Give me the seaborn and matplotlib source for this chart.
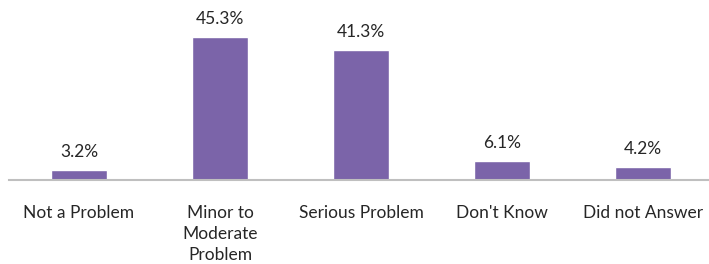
import matplotlib
matplotlib.use("Agg")
import matplotlib.pyplot as plt
import seaborn as sns
import pandas as pd

categories = ["Not a Problem", "Minor to\nModerate\nProblem", "Serious Problem", "Don't Know", "Did not Answer"]
values = [3.2, 45.3, 41.3, 6.1, 4.2]
labels = ["3.2%", "45.3%", "41.3%", "6.1%", "4.2%"]

sns.set_theme(style="white")
plt.rcParams['font.family'] = ['Lato', 'DejaVu Sans']

df = pd.DataFrame({"cat": categories, "val": values})

fig = plt.figure(figsize=(7.09, 2.64), dpi=100)
ax = fig.add_axes([8.5 / 709, (264 - 180) / 264, 705 / 709, 180 / 264])
sns.barplot(data=df, x="cat", y="val", color="#7B64A9", saturation=1, width=0.40, ax=ax)
ax.set_xlim(-0.5, 4.5)
ax.set_ylim(0, 57.0)
ax.set_xlabel("")
ax.set_ylabel("")
ax.set_yticks([])
for s in ["top", "right", "left"]:
    ax.spines[s].set_visible(False)
ax.spines["bottom"].set_color("#BFBFBF")
ax.spines["bottom"].set_linewidth(1.5)
ax.tick_params(axis="x", length=0, pad=18, labelsize=12.5, colors="#262626")
for t in ax.get_xticklabels():
    t.set_linespacing(1.4)
for i, (v, l) in enumerate(zip(values, labels)):
    ax.annotate(l, (i, v), xytext=(0, 7), textcoords="offset points",
                ha="center", va="bottom", fontsize=12.5, color="#262626")
fig.savefig("out.png", dpi=100)
